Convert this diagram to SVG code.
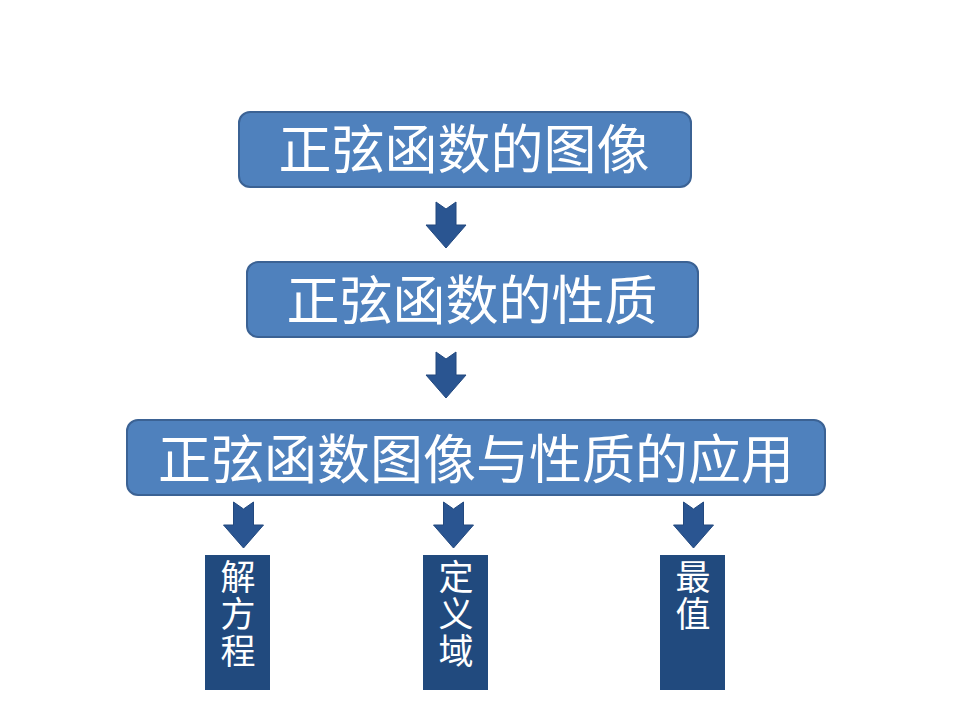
<svg xmlns="http://www.w3.org/2000/svg" xmlns:xlink="http://www.w3.org/1999/xlink" width="960" height="720" viewBox="0 0 960 720">
<style>
.box{fill:#4F81BD;stroke:#3B6294;stroke-width:2}
.leaf{fill:#214A7E}
.t{font-family:"Noto Sans CJK SC","Noto Sans",sans-serif;fill:#FFFFFF;text-anchor:middle}
.big{font-size:53px}
.vert{font-size:35px;writing-mode:tb;text-anchor:start;letter-spacing:2px}
.arr{fill:#2A5591;stroke:#23497F;stroke-width:1}
</style>
<defs>
<path id="arrow" d="M -10,0 L 0,7 L 10,0 L 10,23 L 20,23 L 0,46 L -20,23 L -10,23 Z"/>
</defs>
<rect width="960" height="720" fill="#FFFFFF"/>
<g id="connectors">
<use xlink:href="#arrow" class="arr" transform="translate(446,202)"/>
<use xlink:href="#arrow" class="arr" transform="translate(446,352)"/>
<use xlink:href="#arrow" class="arr" transform="translate(243.5,502)"/>
<use xlink:href="#arrow" class="arr" transform="translate(453.5,502)"/>
<use xlink:href="#arrow" class="arr" transform="translate(693.5,502)"/>
</g>
<g id="node-image">
<rect class="box" x="239" y="112" width="452" height="75" rx="11"/>
<text class="t big" x="464" y="169">正弦函数的图像</text>
</g>
<g id="node-property">
<rect class="box" x="247" y="262" width="451" height="75" rx="11"/>
<text class="t big" x="472" y="320">正弦函数的性质</text>
</g>
<g id="node-application">
<rect class="box" x="127" y="420" width="698" height="75" rx="11"/>
<text class="t big" x="476" y="479">正弦函数图像与性质的应用</text>
</g>
<g id="node-equation">
<rect class="leaf" x="205" y="555" width="65" height="135"/>
<text class="t vert" x="238" y="559">解方程</text>
</g>
<g id="node-domain">
<rect class="leaf" x="423" y="555" width="65" height="135"/>
<text class="t vert" x="456" y="559">定义域</text>
</g>
<g id="node-extreme">
<rect class="leaf" x="660" y="555" width="65" height="135"/>
<text class="t vert" x="693" y="559">最值</text>
</g>
</svg>
